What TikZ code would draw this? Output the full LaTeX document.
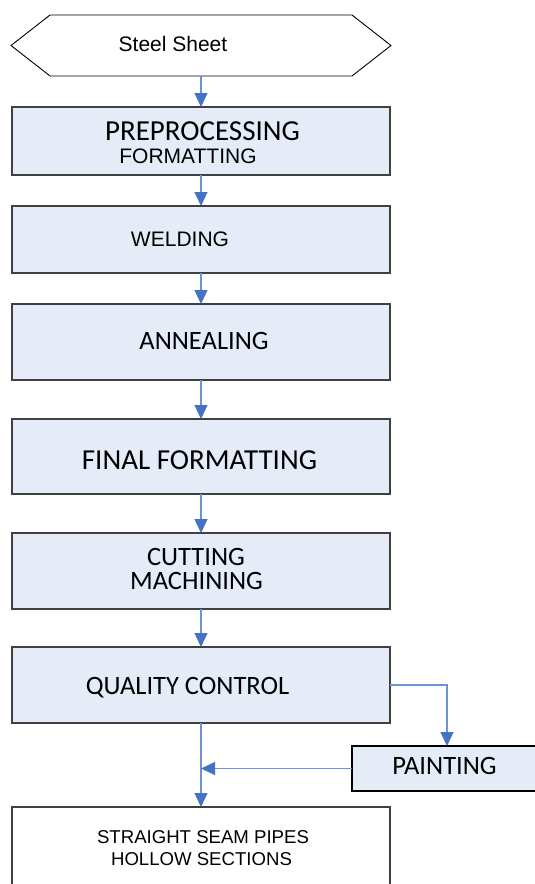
\documentclass[tikz,border=0pt]{standalone}
\usepackage{fontspec}
\setmainfont{Liberation Sans}
\newfontfamily\calib{Carlito}
\usetikzlibrary{arrows.meta,shapes.symbols}
\definecolor{flowblue}{HTML}{4472C4}
\definecolor{flowline}{HTML}{6A93D4}
\definecolor{boxfill}{HTML}{E6ECF7}
\definecolor{boxline}{HTML}{404040}

\begin{document}
\begin{tikzpicture}[x=1pt,y=-1pt,
  stepbox/.style={draw=boxline, fill=boxfill, line width=1.2pt, minimum width=378pt, inner sep=0pt, outer sep=0pt},
  lbl/.style={inner sep=0pt},
  arialtxt/.style={lbl, font=\fontsize{21}{24}\selectfont},
  arialsm/.style={lbl, font=\fontsize{18.6}{22}\selectfont},
  calibig/.style={lbl, font=\calib\fontsize{29}{34}\selectfont},
  calimid/.style={lbl, font=\calib\fontsize{26.5}{30}\selectfont},
  flow/.style={flowline, line width=1.2pt, -{Triangle[length=14pt,width=13pt,color=flowblue]}}]
\useasboundingbox (0,0) rectangle (535,884);
\clip (0,0) rectangle (535,884);

% input and process chain
\node (sheet) [shape=signal, signal to=west and east, signal pointer angle=76, draw=black, line width=0.9pt,
  minimum width=380pt, minimum height=61pt, inner sep=0pt, outer sep=0pt,
  label={[arialtxt,shift={(-28,-1.5)}]center:Steel Sheet}] at (201,45.5) {};
\node (pre) [stepbox, minimum height=68pt,
  label={[calibig,shift={(1.5,-9.5)}]center:PREPROCESSING},
  label={[arialtxt,shift={(-13,15)}]center:FORMATTING}] at (201,141) {};
\node (weld) [stepbox, minimum height=67pt,
  label={[arialtxt,shift={(-21,0)}]center:WELDING}] at (201,239.5) {};
\node (anneal) [stepbox, minimum height=76pt,
  label={[calimid,shift={(3,-1)}]center:ANNEALING}] at (201,342) {};
\node (final) [stepbox, minimum height=75pt,
  label={[calibig,shift={(-1.5,4)}]center:FINAL FORMATTING}] at (201,456.5) {};
\node (cut) [stepbox, minimum height=76pt,
  label={[calimid,shift={(-5,-14.5)}]center:CUTTING},
  label={[calimid,shift={(-4.5,9.5)}]center:MACHINING}] at (201,571) {};
\node (qc) [stepbox, minimum height=76pt,
  label={[calimid,shift={(-13.5,2.5)}]center:QUALITY CONTROL}] at (201,685) {};
\node (paint) [stepbox, draw=black, minimum width=190pt, minimum height=45pt,
  label={[calimid,shift={(-2.5,-3)}]center:PAINTING}] at (447,768.5) {};
\node (out) [stepbox, fill=white, minimum height=93pt,
  label={[arialsm,shift={(2,-16)}]center:STRAIGHT SEAM PIPES},
  label={[arialsm,shift={(0.5,6)}]center:HOLLOW SECTIONS}] at (201,853.5) {};

% connectors
\foreach \a/\b in {sheet/pre,pre/weld,weld/anneal,anneal/final,final/cut,cut/qc,qc/out}
  \draw[flow] (\a) -- (\b);
\draw[flow] (qc.east) -| (paint.north);
\draw[flow] (paint.west) -- (paint.west -| qc.south);
\end{tikzpicture}
\end{document}
